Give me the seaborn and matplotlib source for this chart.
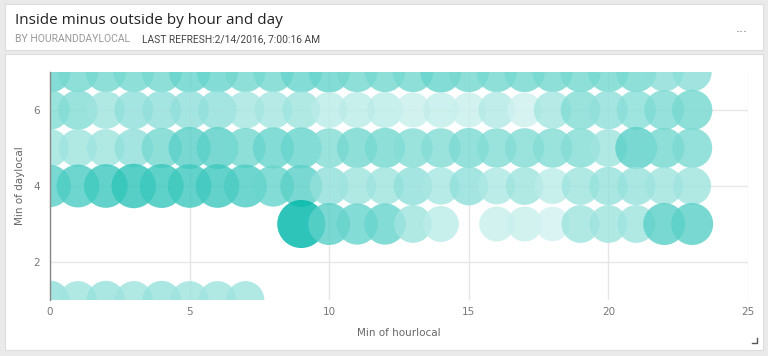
import numpy as np
import pandas as pd
import matplotlib.pyplot as plt
import seaborn as sns
from matplotlib.colors import LinearSegmentedColormap, Normalize
from matplotlib.lines import Line2D
from matplotlib.patches import Rectangle

# hours present for each day, and the relative value (0 light .. 1 dark) of each bubble
hours_all = list(range(24))
day7_vals = [0.55, 0.5, 0.5, 0.5, 0.5, 0.55, 0.55, 0.5, 0.5, 0.55, 0.55, 0.5,
             0.5, 0.5, 0.55, 0.5, 0.5, 0.5, 0.5, 0.5, 0.5, 0.5, 0.42, 0.42]
day6_vals = [0.45, 0.45, 0.35, 0.4, 0.4, 0.4, 0.4, 0.33, 0.33, 0.35, 0.25, 0.25,
             0.25, 0.2, 0.22, 0.2, 0.28, 0.18, 0.33, 0.45, 0.4, 0.43, 0.47, 0.5]
day5_vals = [0.35, 0.35, 0.35, 0.4, 0.5, 0.6, 0.6, 0.5, 0.55, 0.55, 0.45, 0.5,
             0.5, 0.45, 0.45, 0.48, 0.45, 0.45, 0.45, 0.45, 0.35, 0.6, 0.5, 0.48]
day4_vals = [0.6, 0.65, 0.7, 0.75, 0.72, 0.7, 0.7, 0.65, 0.55, 0.6, 0.4, 0.35,
             0.35, 0.4, 0.32, 0.4, 0.3, 0.35, 0.25, 0.35, 0.38, 0.38, 0.35, 0.35]
day3_hours = [9, 10, 11, 12, 13, 14, 16, 17, 18, 19, 20, 21, 22, 23]
day3_vals = [1.0, 0.6, 0.55, 0.55, 0.35, 0.25, 0.2, 0.2, 0.17, 0.35, 0.35, 0.35, 0.6, 0.6]
day1_hours = [0, 1, 2, 3, 4, 5, 6, 7]
day1_vals = [0.4, 0.35, 0.38, 0.35, 0.38, 0.35, 0.35, 0.35]

rows = [(7, hours_all, day7_vals), (6, hours_all, day6_vals), (5, hours_all, day5_vals),
        (4, hours_all, day4_vals), (3, day3_hours, day3_vals), (1, day1_hours, day1_vals)]
recs = []
for d, hrs, vals in rows:
    for h, v in zip(hrs, vals):
        recs.append({'hour': h, 'day': d, 'val': v})
df = pd.DataFrame(recs)

# light-to-teal gradient, semi transparent so overlaps darken slightly
a = 0.82
cmap = LinearSegmentedColormap.from_list('tealgrad', [(1, 1, 1, a), (0.004, 0.72, 0.667, a)])
hnorm = (0, a / 0.88)

fig = plt.figure(figsize=(7.68, 3.56), dpi=100)
fig.patch.set_facecolor('#EAEAEA')
# card backgrounds
fig.patches.append(Rectangle((5 / 768, 1 - 50 / 356), 758 / 768, 46 / 356, transform=fig.transFigure,
                             facecolor='white', edgecolor='#DDDDDD', lw=0.8, zorder=-5))
fig.patches.append(Rectangle((5 / 768, 1 - 350 / 356), 758 / 768, 296 / 356, transform=fig.transFigure,
                             facecolor='white', edgecolor='#DDDDDD', lw=0.8, zorder=-5))

ax = fig.add_axes([50 / 768, 1 - 300 / 356, 698 / 768, 228 / 356])
ax.set_zorder(2)
ax.set_facecolor('none')
sns.scatterplot(data=df, x='hour', y='day', hue='val', size='val', palette=cmap,
                hue_norm=hnorm, sizes=(600, 1200), size_norm=(0.15, 1.0),
                linewidth=0, legend=False, ax=ax, zorder=3)
ax.collections[0].set_facecolor(cmap(Normalize(*hnorm, clip=True)(df['val'].values)))

ax.set_xlim(0, 25)
ax.set_ylim(1, 7)
ax.set_xticks([0, 5, 10, 15, 20, 25])
ax.set_yticks([2, 4, 6])
ax.grid(True, color='#E6E6E6', lw=1, zorder=0)
ax.set_axisbelow(True)
for s in ['top', 'right', 'bottom']:
    ax.spines[s].set_visible(False)
ax.spines['left'].set_color('#888888')
ax.spines['left'].set_linewidth(1)
ax.spines['left'].set_zorder(5)
ax.tick_params(axis='x', length=0, labelsize=7.5, labelcolor='#777777', pad=5)
ax.tick_params(axis='y', length=0, labelsize=7.5, labelcolor='#777777', pad=7)
ax.set_xlabel('Min of hourlocal', fontsize=7.5, color='#666666', labelpad=8)
ax.set_ylabel('Min of daylocal', fontsize=7.5, color='#666666', labelpad=6)

fig.text(15 / 768, 1 - 20 / 356, 'Inside minus outside by hour and day', fontsize=11,
         color='#222222', va='center', family=['Open Sans', 'DejaVu Sans'])
fig.text(15 / 768, 1 - 39 / 356, 'BY HOURANDDAYLOCAL', fontsize=7.5, color='#999999', va='center',
         family=['Roboto'])
fig.text(142 / 768, 1 - 39 / 356, 'LAST REFRESH:2/14/2016, 7:00:16 AM', fontsize=7.4, color='#444444',
         va='center', family=['Roboto'])
fig.text(742 / 768, 1 - 28 / 356, '...', fontsize=9, color='#777777', ha='center', va='center')
# resize corner mark
fig.lines.append(Line2D([752 / 768, 757 / 768, 757 / 768], [1 - 343 / 356, 1 - 343 / 356, 1 - 338 / 356],
                        transform=fig.transFigure, color='#555555', lw=1))

fig.savefig('out.png', dpi=100, facecolor=fig.get_facecolor())
